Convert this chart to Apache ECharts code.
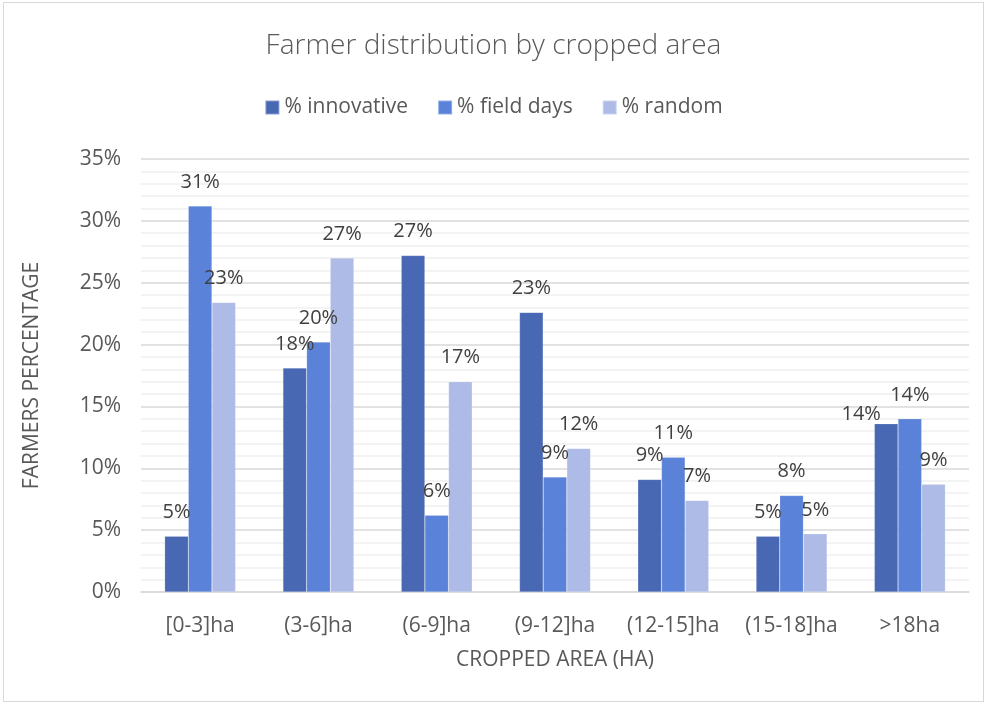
<!DOCTYPE html>
<html>
<head>
<meta charset="utf-8">
<title>Farmer distribution by cropped area</title>
<script src="https://cdn.jsdelivr.net/npm/echarts@6/dist/echarts.min.js"></script>
<style>
    * { margin: 0; padding: 0; }
    html, body { width: 986px; height: 704px; background: #fff; overflow: hidden; }
    #main { position: absolute; left: 3px; top: 2px; width: 981px; height: 700px; border: 1px solid #d9d9d9; box-sizing: border-box; }
</style>
</head>
<body>
<div id="main"></div>
<script>
    // categories (cropped area classes)
    var categories = ['[0-3]ha', '(3-6]ha', '(6-9]ha', '(9-12]ha', '(12-15]ha', '(15-18]ha', '>18ha'];
    // farmers percentage per group
    var innovative = [4.5, 18.1, 27.2, 22.6, 9.1, 4.5, 13.6];
    var fieldDays = [31.2, 20.2, 6.2, 9.3, 10.9, 7.8, 14.0];
    var random = [23.4, 27.0, 17.0, 11.6, 7.4, 4.7, 8.7];
    var seriesNames = ['% innovative', '% field days', '% random'];

    var font = '"Open Sans", sans-serif';
    var txt = '#595959';

    var label = {
        show: true,
        position: 'top',
        distance: 14,
        color: '#404040',
        fontSize: 20,
        fontFamily: font,
        formatter: function (p) { return Math.round(p.value) + '%'; }
    };

    function bar(name, data, color, moved) {
        // moved: {index: offset} for labels nudged aside like in the original
        var items = data.map(function (v, i) {
            if (moved && moved[i]) return { value: v, label: { offset: moved[i] } };
            return v;
        });
        return {
            name: name,
            type: 'bar',
            data: items,
            barGap: '0%',
            barCategoryGap: '40%',
            itemStyle: { color: color, borderColor: 'rgba(255,255,255,0.35)', borderWidth: 0.5 },
            label: label,
            emphasis: { disabled: true }
        };
    }

    var chart = echarts.init(document.getElementById('main'));
    chart.setOption({
        animation: false,
        title: {
            text: 'Farmer distribution by cropped area',
            left: 'center',
            top: 24,
            textStyle: { fontFamily: font, fontWeight: 300, fontSize: 28, color: txt }
        },
        legend: {
            data: seriesNames,
            top: 89,
            left: 'center',
            itemWidth: 14,
            itemHeight: 14,
            itemGap: 29,
            icon: 'rect',
            textStyle: { fontFamily: font, fontSize: 21, color: txt }
        },
        grid: { left: 137, right: 14, top: 156, bottom: 109 },
        xAxis: {
            type: 'category',
            data: categories,
            name: 'CROPPED AREA (HA)',
            nameLocation: 'middle',
            nameGap: 58,
            nameTextStyle: { fontFamily: font, fontSize: 21, color: txt },
            axisLine: { lineStyle: { color: '#d9d9d9', width: 1.5 } },
            axisTick: { show: false },
            axisLabel: { interval: 0, hideOverlap: false, fontFamily: font, fontSize: 21, color: txt, margin: 24 }
        },
        yAxis: {
            type: 'value',
            min: 0,
            max: 35,
            interval: 5,
            name: 'FARMERS PERCENTAGE',
            nameLocation: 'middle',
            nameGap: 98,
            nameTextStyle: { fontFamily: font, fontSize: 21, color: txt },
            axisLine: { show: false },
            axisTick: { show: false },
            axisLabel: { fontFamily: font, fontSize: 21, color: txt, margin: 20, formatter: '{value}%' },
            splitLine: { lineStyle: { color: '#d9d9d9', width: 1.5 } },
            minorTick: { show: false, splitNumber: 5 },
            minorSplitLine: { show: true, lineStyle: { color: '#efefef', width: 1.5 } }
        },
        series: [
            bar(seriesNames[0], innovative, '#4868b3', { 6: [-25, 15] }),
            bar(seriesNames[1], fieldDays, '#5a82d8'),
            bar(seriesNames[2], random, '#adbbe6')
        ]
    });
</script>
</body>
</html>
